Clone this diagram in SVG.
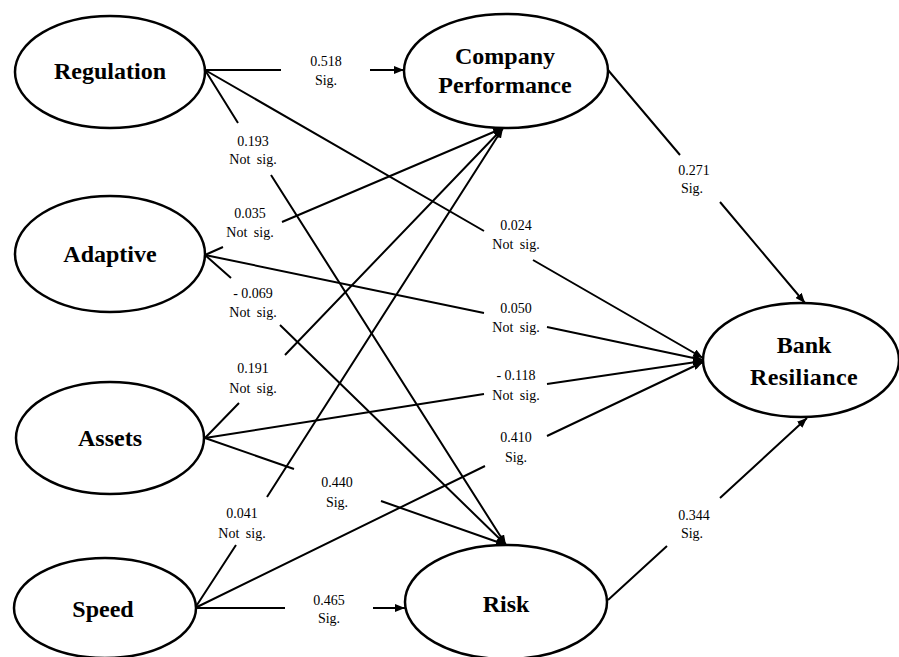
<svg xmlns="http://www.w3.org/2000/svg" width="899" height="657" viewBox="0 0 899 657">
<defs>
<style>
.node ellipse{fill:#fff;stroke:#000;stroke-width:2.5}
.node text{font-family:"Liberation Serif","Times New Roman",serif;font-weight:bold;font-size:24px;text-anchor:middle;fill:#000}
.edge{fill:none;stroke:#000;stroke-width:2;marker-end:url(#arr)}
.lbl{font-family:"Liberation Serif","Times New Roman",serif;font-size:14px;text-anchor:middle;fill:#000}
.ns{word-spacing:3px}
</style>
<marker id="arr" markerUnits="userSpaceOnUse" markerWidth="10" markerHeight="8" refX="10" refY="4" orient="auto">
<path d="M0,0 L10,4 L0,8 z" fill="#000"/>
</marker>
</defs>
<rect width="899" height="657" fill="#fff"/>
<g id="connectors">
<path class="edge" d="M205,70 L281,70 M370,70 L404,70"/>
<path class="edge" d="M205,70 L238,123 M271,175 L506,545"/>
<path class="edge" d="M205,70 L484,231 M533,260 L703,358"/>
<path class="edge" d="M205,255 L223,247 M282,222 L503,128"/>
<path class="edge" d="M205,255 L484,313 M547,327 L703,360"/>
<path class="edge" d="M205,255 L231,278 M280,325 L506,545"/>
<path class="edge" d="M205,438 L239,403 M285,355 L503,128"/>
<path class="edge" d="M205,438 L484,394 M547,384 L703,361"/>
<path class="edge" d="M205,438 L294,469 M381,501 L506,545"/>
<path class="edge" d="M195,608 L236,545 M267,497 L503,128"/>
<path class="edge" d="M195,608 L485,466 M547,436 L703,362"/>
<path class="edge" d="M195,608 L285,608 M373,608 L405,608"/>
<path class="edge" d="M608,70 L680,155 M720,202 L805,303"/>
<path class="edge" d="M608,600 L667,546 M720,498 L807,418"/>
</g>
<g id="labels">
<text class="lbl" x="326" y="66">0.518</text><text class="lbl" x="326" y="85">Sig.</text>
<text class="lbl" x="253" y="146">0.193</text><text class="lbl ns" x="253" y="164">Not sig.</text>
<text class="lbl" x="516" y="230">0.024</text><text class="lbl ns" x="516" y="249">Not sig.</text>
<text class="lbl" x="250" y="218">0.035</text><text class="lbl ns" x="250" y="237">Not sig.</text>
<text class="lbl" x="253" y="298">- 0.069</text><text class="lbl ns" x="253" y="317">Not sig.</text>
<text class="lbl" x="516" y="313">0.050</text><text class="lbl ns" x="516" y="332">Not sig.</text>
<text class="lbl" x="253" y="373">0.191</text><text class="lbl ns" x="253" y="393">Not sig.</text>
<text class="lbl" x="516" y="380">- 0.118</text><text class="lbl ns" x="516" y="400">Not sig.</text>
<text class="lbl" x="516" y="442">0.410</text><text class="lbl" x="516" y="462">Sig.</text>
<text class="lbl" x="337" y="487">0.440</text><text class="lbl" x="337" y="507">Sig.</text>
<text class="lbl" x="242" y="518">0.041</text><text class="lbl ns" x="242" y="538">Not sig.</text>
<text class="lbl" x="329" y="605">0.465</text><text class="lbl" x="329" y="623">Sig.</text>
<text class="lbl" x="694" y="175">0.271</text><text class="lbl" x="692" y="193">Sig.</text>
<text class="lbl" x="694" y="520">0.344</text><text class="lbl" x="692" y="538">Sig.</text>
</g>
<g id="regulation" class="node"><ellipse cx="110" cy="72" rx="95" ry="56"/><text x="110" y="79">Regulation</text></g>
<g id="adaptive" class="node"><ellipse cx="110" cy="254" rx="95" ry="58"/><text x="110" y="262">Adaptive</text></g>
<g id="assets" class="node"><ellipse cx="110" cy="438" rx="94" ry="56"/><text x="110" y="446">Assets</text></g>
<g id="speed" class="node"><ellipse cx="105" cy="608" rx="91" ry="50"/><text x="103" y="617">Speed</text></g>
<g id="company-performance" class="node"><ellipse cx="506" cy="71" rx="102" ry="57"/><text x="505" y="64">Company</text><text x="505" y="93">Performance</text></g>
<g id="risk" class="node"><ellipse cx="506" cy="602" rx="101" ry="57"/><text x="506" y="612">Risk</text></g>
<g id="bank-resiliance" class="node"><ellipse cx="801" cy="360" rx="98" ry="57"/><text x="804" y="353">Bank</text><text x="804" y="385" letter-spacing="0.4">Resiliance</text></g>
</svg>
